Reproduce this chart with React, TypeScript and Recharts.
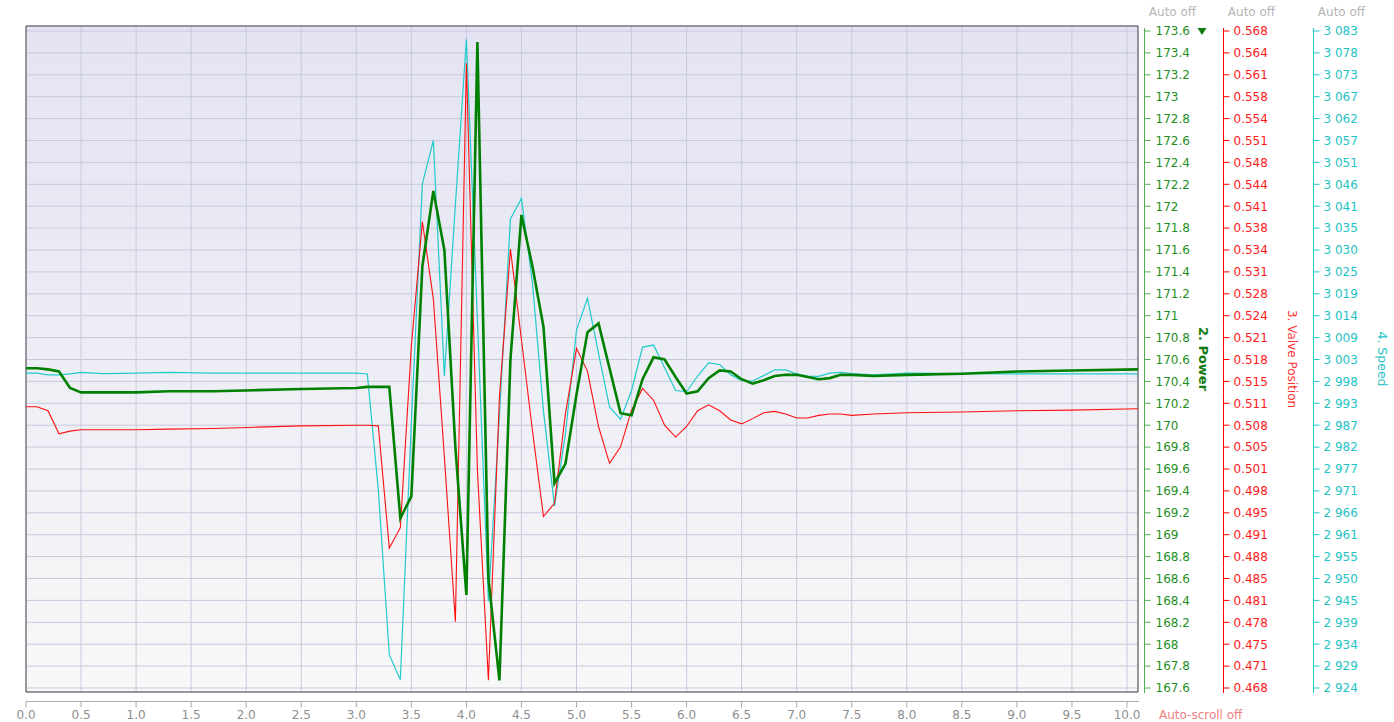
import {
  LineChart,
  Line,
  XAxis,
  YAxis,
  CartesianGrid,
  ReferenceArea,
} from "recharts";

// time (s) of each sample, shared by the three signals
const times = [
  0, 0.1, 0.2, 0.3, 0.4, 0.5, 0.7, 1.0, 1.3, 1.7, 2.1, 2.5,
  3.0, 3.1, 3.2, 3.3, 3.4, 3.5, 3.6, 3.7, 3.8, 3.9,
  4.0, 4.1, 4.2, 4.3, 4.4, 4.5, 4.6, 4.7, 4.8, 4.9,
  5.0, 5.1, 5.2, 5.3, 5.4, 5.5, 5.6, 5.7, 5.8, 5.9,
  6.0, 6.1, 6.2, 6.3, 6.4, 6.5, 6.6, 6.7, 6.8, 6.9,
  7.0, 7.1, 7.2, 7.3, 7.4, 7.5, 7.7, 8.0, 8.5, 9.0, 9.5, 10.1,
];

const power = [
  170.52, 170.52, 170.51, 170.49, 170.34, 170.3, 170.3, 170.3, 170.31, 170.31, 170.32, 170.33,
  170.34, 170.35, 170.35, 170.35, 169.15, 169.35, 171.45, 172.14, 171.6, 169.8,
  168.45, 173.5, 168.6, 167.67, 170.6, 171.92, 171.45, 170.9, 169.47, 169.65,
  170.28, 170.85, 170.93, 170.52, 170.11, 170.09, 170.42, 170.62, 170.6, 170.44,
  170.29, 170.31, 170.43, 170.5, 170.49, 170.42, 170.38, 170.41, 170.45, 170.46,
  170.46, 170.44, 170.42, 170.43, 170.46, 170.46, 170.45, 170.46, 170.47, 170.49, 170.5, 170.51,
];

const valvePosition = [
  0.5106, 0.5106, 0.51, 0.5065, 0.5069, 0.5071, 0.5071, 0.5071, 0.5072, 0.5073, 0.5075, 0.5077,
  0.5078, 0.5078, 0.5077, 0.4891, 0.4922, 0.5198, 0.5388, 0.527, 0.503, 0.4779,
  0.5629, 0.501, 0.469, 0.512, 0.5346, 0.5208, 0.507, 0.4939, 0.4959, 0.5096,
  0.5195, 0.516, 0.5076, 0.502, 0.5045, 0.5101, 0.5134, 0.5116, 0.5078, 0.506,
  0.5076, 0.51, 0.5109, 0.51, 0.5086, 0.508, 0.5088, 0.5097, 0.5099, 0.5095,
  0.5089, 0.5089, 0.5093, 0.5095, 0.5095, 0.5093, 0.5095, 0.5097, 0.5098, 0.51, 0.5101, 0.5103,
];

const speed = [
  3000.2, 3000.2, 2999.8, 2999.8, 3000.0, 3000.4, 3000.1, 3000.2, 3000.4, 3000.2, 3000.2, 3000.2,
  3000.2, 3000.0, 2972, 2932, 2926, 2988, 3046, 3056.5, 2999.5, 3041,
  3081, 3013, 2945, 2990, 3037.5, 3042.5, 3022, 2991, 2968, 2985.6,
  3010.6, 3018.3, 3005, 2992, 2989, 2996, 3006.5, 3007, 3001.5, 2996,
  2995.7, 2999.5, 3002.7, 3002.3, 2999.8, 2998.4, 2998.3, 2999.6, 3001.0, 3001.0,
  3000.0, 2999.5, 2999.4, 3000.2, 3000.4, 3000.1, 2999.8, 3000.2, 3000.1, 3000.0, 3000.0, 3000.0,
];

const timeTicks = [0, 0.5, 1, 1.5, 2, 2.5, 3, 3.5, 4, 4.5, 5, 5.5, 6, 6.5, 7, 7.5, 8, 8.5, 9, 9.5, 10];
const timeTickLabels = [
  "0.0", "0.5", "1.0", "1.5", "2.0", "2.5", "3.0", "3.5", "4.0", "4.5", "5.0",
  "5.5", "6.0", "6.5", "7.0", "7.5", "8.0", "8.5", "9.0", "9.5", "10.0",
];

// tick labels, bottom to top
const powerTickLabels = [
  "167.6", "167.8", "168", "168.2", "168.4", "168.6", "168.8", "169", "169.2", "169.4", "169.6",
  "169.8", "170", "170.2", "170.4", "170.6", "170.8", "171", "171.2", "171.4", "171.6",
  "171.8", "172", "172.2", "172.4", "172.6", "172.8", "173", "173.2", "173.4", "173.6",
];
const valveTickLabels = [
  "0.468", "0.471", "0.475", "0.478", "0.481", "0.485", "0.488", "0.491", "0.495", "0.498", "0.501",
  "0.505", "0.508", "0.511", "0.515", "0.518", "0.521", "0.524", "0.528", "0.531", "0.534",
  "0.538", "0.541", "0.544", "0.548", "0.551", "0.554", "0.558", "0.561", "0.564", "0.568",
];
const speedTickLabels = [
  "2 924", "2 929", "2 934", "2 939", "2 945", "2 950", "2 955", "2 961", "2 966", "2 971", "2 977",
  "2 982", "2 987", "2 993", "2 998", "3 003", "3 009", "3 014", "3 019", "3 025", "3 030",
  "3 035", "3 041", "3 046", "3 051", "3 057", "3 062", "3 067", "3 073", "3 078", "3 083",
];

const rows = times.map((t, i) => ({
  t,
  power: power[i],
  valve: valvePosition[i],
  speed: speed[i],
}));

type AxisSpec = {
  labels: string[];
  lo: number;
  hi: number;
  lineDx: number;
  textDx: number;
  axisColor: string;
  textColor: string;
  marker?: boolean;
};

const powerAxis: AxisSpec = {
  labels: powerTickLabels, lo: 167.6, hi: 173.6, lineDx: 6, textDx: 11,
  axisColor: "#52ad52", textColor: "#1e8e1e", marker: true,
};
const valveAxis: AxisSpec = {
  labels: valveTickLabels, lo: 0.4678, hi: 0.5678, lineDx: 0, textDx: 10,
  axisColor: "#ff0000", textColor: "#ff1a1a",
};
const speedAxis: AxisSpec = {
  labels: speedTickLabels, lo: 2924, hi: 3083, lineDx: 0, textDx: 10,
  axisColor: "#1ec8c8", textColor: "#1ec3c3",
};

// the outer ticks sit 5px below the plot top and 4px above its bottom (657px apart)
const domainOf = (a: AxisSpec): [number, number] => {
  const perPx = (a.hi - a.lo) / 657;
  return [a.lo - 4 * perPx, a.hi + 5 * perPx];
};
const ticksOf = (a: AxisSpec) => {
  const step = (a.hi - a.lo) / (a.labels.length - 1);
  return a.labels.map((_, i) => a.lo + i * step);
};

const rightTick = (a: AxisSpec) => (props: any) => {
  const { x, y, payload } = props;
  const last = a.labels.length - 1;
  const step = (a.hi - a.lo) / last;
  const i = Math.round((payload.value - a.lo) / step);
  const ax = Math.round(x + a.lineDx) + 0.5;
  return (
    <g>
      <line x1={ax} x2={ax} y1={i === last ? y - 3 : y - 11} y2={i === 0 ? y + 5 : y + 11} stroke={a.axisColor} />
      <line x1={ax} x2={ax + 6} y1={y} y2={y} stroke={a.axisColor} />
      <text x={ax + a.textDx} y={y} dy="0.36em" fill={a.textColor} fontSize={12}>
        {a.labels[i]}
      </text>
      {i === last && (
        <text x={ax + 28} y={y - 15} textAnchor="middle" fill="#b5b5b5" fontSize={12}>
          Auto off
        </text>
      )}
      {i === last && a.marker && (
        <polygon points={`${ax + 53},${y - 3} ${ax + 62},${y - 3} ${ax + 57.5},${y + 4}`} fill="#127a12" />
      )}
    </g>
  );
};

const timeTick = (props: any) => {
  const { x, y, payload } = props;
  const i = timeTicks.indexOf(payload.value);
  const last = timeTicks.length - 1;
  const ay = Math.round(y + 9) + 0.5;
  return (
    <g>
      <line x1={i === 0 ? x : x - 27.6} x2={i === last ? x + 12 : x + 27.6} y1={ay} y2={ay} stroke="#a9a9a9" />
      <line x1={x} x2={x} y1={ay} y2={ay + 6} stroke="#a9a9a9" />
      <text x={x} y={ay + 17} textAnchor="middle" fill="#8e8e8e" fontSize={12}>
        {timeTickLabels[i]}
      </text>
      {i === last && (
        <text x={x + 32} y={ay + 17} fill="#f08080" fontSize={12}>
          Auto-scroll off
        </text>
      )}
    </g>
  );
};

const axisTitle = (text: string, dx: number, color: string, size: number, bold = false) => (props: any) => {
  const vb = props.viewBox;
  const cx = vb.x + dx;
  const cy = vb.y + vb.height / 2;
  return (
    <text
      x={cx}
      y={cy}
      transform={`rotate(90 ${cx} ${cy})`}
      textAnchor="middle"
      dominantBaseline="central"
      fill={color}
      fontSize={size}
      fontWeight={bold ? "bold" : "normal"}
    >
      {text}
    </text>
  );
};

// built once so the axes register a single time, in this order
const powerDomain = domainOf(powerAxis);
const valveDomain = domainOf(valveAxis);
const speedDomain = domainOf(speedAxis);
const powerTicks = ticksOf(powerAxis);
const valveTicks = ticksOf(valveAxis);
const speedTicks = ticksOf(speedAxis);
const powerTick = rightTick(powerAxis);
const valveTick = rightTick(valveAxis);
const speedTick = rightTick(speedAxis);
const powerLabel = { value: "2. Power", content: axisTitle("2. Power", 65, "#127a12", 13, true) };
const valveLabel = { value: "3. Valve Position", content: axisTitle("3. Valve Position", 69, "#ff3333", 12) };
const speedLabel = { value: "4. Speed", content: axisTitle("4. Speed", 69, "#1ec3c3", 12.5) };
const xDomain: [number, number] = [0, 10.1];

export default function App() {
  return (
    <div
      style={{
        position: "absolute",
        left: 0,
        top: 0,
        width: 1394,
        height: 722,
        background: "#ffffff",
        fontFamily: "'DejaVu Sans', sans-serif",
      }}
    >
      <LineChart width={1394} height={722} data={rows} margin={{ top: 26, right: 0, bottom: 0, left: 26 }}>
        <defs>
          <linearGradient id="plotBg" x1="0" y1="0" x2="0" y2="1">
            <stop offset="0" stopColor="#e3e3f3" />
            <stop offset="1" stopColor="#f8f8f8" />
          </linearGradient>
        </defs>
        <CartesianGrid yAxisId="y1Power" stroke="#c9c9de" fill="url(#plotBg)" fillOpacity={1} />
        <XAxis
          dataKey="t"
          type="number"
          domain={xDomain}
          ticks={timeTicks}
          interval={0}
          height={30}
          axisLine={false}
          tickLine={false}
          tickSize={0}
          tickMargin={0}
          tick={timeTick}
          allowDataOverflow
        />
        <YAxis
          yAxisId="y1Power"
          orientation="right"
          type="number"
          width={85}
          domain={powerDomain}
          ticks={powerTicks}
          interval={0}
          axisLine={false}
          tickLine={false}
          tickSize={0}
          tickMargin={0}
          tick={powerTick}
          allowDataOverflow
          label={powerLabel}
        />
        <YAxis
          yAxisId="y2Valve"
          orientation="right"
          type="number"
          width={90}
          domain={valveDomain}
          ticks={valveTicks}
          interval={0}
          axisLine={false}
          tickLine={false}
          tickSize={0}
          tickMargin={0}
          tick={valveTick}
          allowDataOverflow
          label={valveLabel}
        />
        <YAxis
          yAxisId="y3Speed"
          orientation="right"
          type="number"
          width={81}
          domain={speedDomain}
          ticks={speedTicks}
          interval={0}
          axisLine={false}
          tickLine={false}
          tickSize={0}
          tickMargin={0}
          tick={speedTick}
          allowDataOverflow
          label={speedLabel}
        />
        <ReferenceArea
          yAxisId="y1Power"
          x1={0}
          x2={10.1}
          y1={powerDomain[0]}
          y2={powerDomain[1]}
          fill="none"
          stroke="#4a4a4a"
          strokeOpacity={1}
        />
        <Line yAxisId="y3Speed" dataKey="speed" type="linear" stroke="#22caca" strokeWidth={1.2} dot={false} activeDot={false} isAnimationActive={false} />
        <Line yAxisId="y2Valve" dataKey="valve" type="linear" stroke="#ff1010" strokeWidth={1.1} dot={false} activeDot={false} isAnimationActive={false} />
        <Line yAxisId="y1Power" dataKey="power" type="linear" stroke="#008000" strokeWidth={2.6} dot={false} activeDot={false} isAnimationActive={false} />
      </LineChart>
    </div>
  );
}
